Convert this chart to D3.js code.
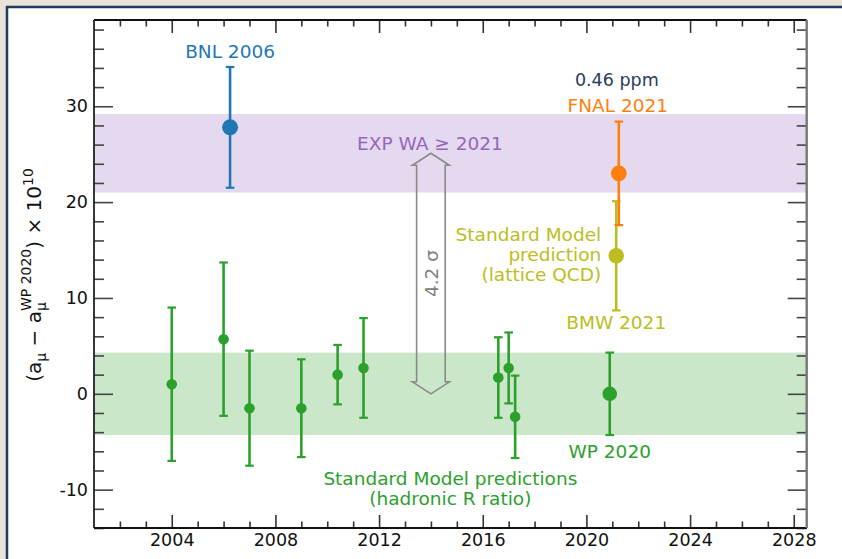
<!DOCTYPE html>
<html>
<head>
<meta charset="utf-8">
<script src="https://cdn.jsdelivr.net/npm/d3@7"></script>
<style>
  body { margin: 0; background: #ebe3d7; }
  svg { display: block; font-family: "DejaVu Sans", sans-serif; }
</style>
</head>
<body>
<svg id="chart"></svg>
<script>
const width = 842
const height = 559

// Standard Model predictions (hadronic R ratio), relative to WP 2020, x 1e10
const smYears = [2004.0, 2006.0, 2007.0, 2009.0, 2010.4, 2011.4, 2016.6, 2017.0, 2017.25]
const smValues = [1.0, 5.7, -1.5, -1.5, 2.0, 2.7, 1.7, 2.7, -2.4]
const smErrors = [8.0, 8.0, 6.0, 5.1, 3.1, 5.2, 4.2, 3.7, 4.3]

// single highlighted results
const wpPoint = { year: 2020.9, value: 0.0, err: 4.3 }
const bnlPoint = { year: 2006.25, value: 27.8, err: 6.3 }
const bmwPoint = { year: 2021.15, value: 14.4, err: 5.7 }
const fnalPoint = { year: 2021.25, value: 23.0, err: 5.4 }

// bands
const expBand = [21.0, 29.2]
const wpBand = [-4.3, 4.3]

// 4.2 sigma arrow
const arrowYear = 2014.0
const arrowRange = [0.0, 25.1]

// ticks
const xMajorTicks = [2004, 2008, 2012, 2016, 2020, 2024, 2028]
const xMinorTicks = d3.range(2002, 2029)
const yMajorTicks = [-10, 0, 10, 20, 30]
const yMinorTicks = d3.range(-14, 39, 2)

const colors = {
    blue: '#1f77b4', orange: '#ff7f0e', green: '#2ca02c',
    olive: '#bcbd22', purple: '#9467bd', gray: '#8a8a8a', navy: '#283d5c'
}

const margin = { left: 94, right: 35.3, top: 20, bottom: 31 }

var svg = d3.select('#chart')
    .attr('width', width)
    .attr('height', height);

// white panel with dark border
svg.append('rect')
    .attr('x', 7).attr('y', 7)
    .attr('width', width + 20).attr('height', height + 20)
    .attr('fill', 'white')
    .attr('stroke', '#1f3b60')
    .attr('stroke-width', 2.5);

var xScale = d3.scaleLinear()
    .domain([2001, 2028.5])
    .range([margin.left, width - margin.right]);

var yScale = d3.scaleLinear()
    .domain([-14, 39])
    .range([height - margin.bottom, margin.top]);

const x0 = xScale.range()[0], x1 = xScale.range()[1];

// Bands
svg.append('rect')
    .attr('x', x0).attr('width', x1 - x0)
    .attr('y', yScale(expBand[1]))
    .attr('height', yScale(expBand[0]) - yScale(expBand[1]))
    .attr('fill', colors.purple).attr('fill-opacity', 0.25);

svg.append('rect')
    .attr('x', x0).attr('width', x1 - x0)
    .attr('y', yScale(wpBand[1]))
    .attr('height', yScale(wpBand[0]) - yScale(wpBand[1]))
    .attr('fill', colors.green).attr('fill-opacity', 0.25);

// Hollow double-headed arrow
var ax = xScale(arrowYear);
var aTop = yScale(arrowRange[1]);
var aBot = yScale(arrowRange[0]);
var headLen = 12, headW = 18.5, bodyW = 14.3;
var arrowPath = d3.path();
arrowPath.moveTo(ax, aTop);
arrowPath.lineTo(ax + headW, aTop + headLen);
arrowPath.lineTo(ax + bodyW, aTop + headLen);
arrowPath.lineTo(ax + bodyW, aBot - headLen);
arrowPath.lineTo(ax + headW, aBot - headLen);
arrowPath.lineTo(ax, aBot);
arrowPath.lineTo(ax - headW, aBot - headLen);
arrowPath.lineTo(ax - bodyW, aBot - headLen);
arrowPath.lineTo(ax - bodyW, aTop + headLen);
arrowPath.lineTo(ax - headW, aTop + headLen);
arrowPath.closePath();
svg.append('path')
    .attr('d', arrowPath.toString())
    .attr('fill', 'none')
    .attr('stroke', colors.gray)
    .attr('stroke-width', 1.6);

svg.append('text')
    .attr('transform', `translate(${ax + 7},${(aTop + aBot) / 2}) rotate(-90)`)
    .attr('text-anchor', 'middle')
    .attr('font-size', 18.5)
    .attr('fill', '#808080')
    .text('4.2 σ');

// Error bar helper
function errorBar(points, color, r) {
    var g = svg.append('g');
    g.selectAll('line.bar')
        .data(points).enter().append('line')
        .attr('x1', d => xScale(d.year)).attr('x2', d => xScale(d.year))
        .attr('y1', d => yScale(d.value - d.err)).attr('y2', d => yScale(d.value + d.err))
        .attr('stroke', color).attr('stroke-width', 2.6);
    ['lo', 'hi'].forEach(function (side) {
        g.selectAll('line.cap-' + side)
            .data(points).enter().append('line')
            .attr('x1', d => xScale(d.year) - 4.3).attr('x2', d => xScale(d.year) + 4.3)
            .attr('y1', d => yScale(side === 'lo' ? d.value - d.err : d.value + d.err))
            .attr('y2', d => yScale(side === 'lo' ? d.value - d.err : d.value + d.err))
            .attr('stroke', color).attr('stroke-width', 2.2);
    });
    g.selectAll('circle')
        .data(points).enter().append('circle')
        .attr('cx', d => xScale(d.year))
        .attr('cy', d => yScale(d.value))
        .attr('r', r)
        .attr('fill', color);
}

var smPoints = smYears.map((yr, i) => ({ year: yr, value: smValues[i], err: smErrors[i] }));
errorBar(smPoints, colors.green, 5.3);
errorBar([wpPoint], colors.green, 7.3);
errorBar([bnlPoint], colors.blue, 8);
errorBar([bmwPoint], colors.olive, 7.7);
errorBar([fnalPoint], colors.orange, 7.9);

// Labels
function label(text, x, y, color, anchor) {
    return svg.append('text')
        .attr('x', x).attr('y', y)
        .attr('text-anchor', anchor || 'middle')
        .attr('font-size', 18.5)
        .attr('fill', color)
        .text(text);
}

label('BNL 2006', xScale(bnlPoint.year), yScale(bnlPoint.value + bnlPoint.err) - 8.5, colors.blue);
label('FNAL 2021', xScale(fnalPoint.year) - 1, yScale(fnalPoint.value + fnalPoint.err) - 10, colors.orange);
label('0.46 ppm', xScale(fnalPoint.year) - 2, yScale(fnalPoint.value + fnalPoint.err) - 36, colors.navy)
    .attr('font-size', 17.5);
label('EXP WA ≥ 2021', ax - 1, aTop - 3, colors.purple);
label('BMW 2021', xScale(bmwPoint.year), yScale(bmwPoint.value - bmwPoint.err) + 18.5, colors.olive);
label('WP 2020', xScale(wpPoint.year), yScale(wpPoint.value - wpPoint.err) + 22.6, colors.green);

['Standard Model', 'prediction', '(lattice QCD)'].forEach(function (t, i) {
    label(t, xScale(bmwPoint.year) - 15, yScale(bmwPoint.value) + 5 + (i - 1) * 20.2, colors.olive, 'end');
});

['Standard Model predictions', '(hadronic R ratio)'].forEach(function (t, i) {
    label(t, (x0 + x1) / 2, yScale(-9.5) + i * 19.7, colors.green);
});

// Axes: ticks point inwards
function styleAxis(g, color) {
    g.select('.domain').remove();
    g.selectAll('.tick line').attr('stroke', color).attr('stroke-width', 1.6);
    g.selectAll('.tick text').attr('font-size', 17.5).attr('fill', '#111')
        .attr('font-family', '"DejaVu Sans", sans-serif');
}

var yb = yScale.range()[0], yt = yScale.range()[1];

// bottom
svg.append('g').attr('transform', `translate(0,${yb})`)
    .call(d3.axisBottom(xScale).tickValues(xMinorTicks.filter(t => t % 4 !== 0)).tickSize(-6.5).tickFormat(''))
    .call(g => styleAxis(g, '#333'));
svg.append('g').attr('transform', `translate(0,${yb})`)
    .call(d3.axisBottom(xScale).tickValues(xMajorTicks).tickSize(-13).tickPadding(6).tickFormat(d3.format('d')))
    .call(g => styleAxis(g, '#333'));
// top
svg.append('g').attr('transform', `translate(0,${yt})`)
    .call(d3.axisTop(xScale).tickValues(xMinorTicks.filter(t => t % 4 !== 0)).tickSize(-6.5).tickFormat(''))
    .call(g => styleAxis(g, '#333'));
svg.append('g').attr('transform', `translate(0,${yt})`)
    .call(d3.axisTop(xScale).tickValues(xMajorTicks).tickSize(-13).tickFormat(''))
    .call(g => styleAxis(g, '#333'));
// left
svg.append('g').attr('transform', `translate(${x0},0)`)
    .call(d3.axisLeft(yScale).tickValues(yMinorTicks.filter(t => t % 10 !== 0)).tickSize(-10).tickFormat(''))
    .call(g => styleAxis(g, '#444'));
svg.append('g').attr('transform', `translate(${x0},0)`)
    .call(d3.axisLeft(yScale).tickValues(yMajorTicks).tickSize(-19).tickPadding(6).tickFormat(d => d < 0 ? '-' + Math.abs(d) : d))
    .call(g => styleAxis(g, '#444'));
// right
svg.append('g').attr('transform', `translate(${x1},0)`)
    .call(d3.axisRight(yScale).tickValues(yMinorTicks.filter(t => t % 10 !== 0)).tickSize(-10).tickFormat(''))
    .call(g => styleAxis(g, '#444'));
svg.append('g').attr('transform', `translate(${x1},0)`)
    .call(d3.axisRight(yScale).tickValues(yMajorTicks).tickSize(-19).tickFormat(''))
    .call(g => styleAxis(g, '#444'));

// Spines
svg.append('line').attr('x1', x0).attr('x2', x0).attr('y1', yt).attr('y2', yb)
    .attr('stroke', '#222').attr('stroke-width', 1.8);
svg.append('line').attr('x1', x0).attr('x2', x1).attr('y1', yb).attr('y2', yb)
    .attr('stroke', '#111').attr('stroke-width', 1.8);
svg.append('line').attr('x1', x0).attr('x2', x1).attr('y1', yt).attr('y2', yt)
    .attr('stroke', '#111').attr('stroke-width', 1.8);
svg.append('line').attr('x1', x1).attr('x2', x1).attr('y1', yt).attr('y2', yb)
    .attr('stroke', '#777').attr('stroke-width', 2.4);

// Y axis label
var ylab = svg.append('text')
    .attr('transform', `translate(41,${(yt + yb) / 2 + 1}) rotate(-90)`)
    .attr('text-anchor', 'middle')
    .attr('font-size', 20)
    .attr('fill', '#111');
ylab.append('tspan').text('(a');
ylab.append('tspan').attr('font-size', 14).attr('dy', 5).text('μ');
ylab.append('tspan').attr('dy', -5).text(' − a');
ylab.append('tspan').attr('font-size', 14).attr('dy', 5).text('μ');
ylab.append('tspan').attr('font-size', 14).attr('dx', -8.9).attr('dy', -15).text('WP 2020');
ylab.append('tspan').attr('dy', 10).text(') × 10');
ylab.append('tspan').attr('font-size', 14).attr('dy', -8).text('10');
</script>
</body>
</html>
